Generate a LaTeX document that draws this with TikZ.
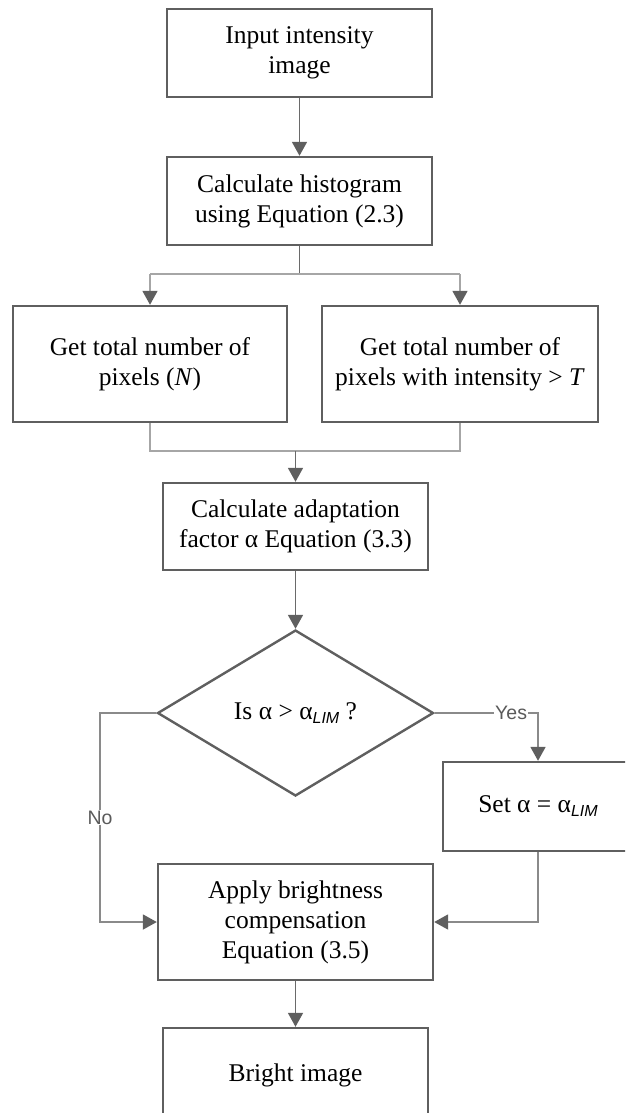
\documentclass[tikz,border=0pt]{standalone}
\usepackage{fontspec}
\setmainfont{Liberation Serif}
\newfontfamily\labfont{Liberation Sans}
\usetikzlibrary{arrows.meta,shapes.geometric}
\definecolor{boxc}{HTML}{5F5F5F}
\definecolor{darkl}{HTML}{6A6A6A}
\definecolor{lightl}{HTML}{A6A6A6}
\definecolor{midl}{HTML}{8A8A8A}
\definecolor{labc}{HTML}{5A5A5A}
\newcommand{\limsub}{\raisebox{-0.35ex}{\labfont\itshape\fontsize{16}{16}\selectfont LIM}}
\begin{document}
\begin{tikzpicture}[x=1pt,y=-1pt,
  every node/.style={font=\fontsize{25.5}{30}\selectfont, text=black},
  pbox/.style={draw=boxc, line width=2.4pt, fill=white, align=center, inner sep=0pt},
  dec/.style={draw=boxc, line width=2.4pt, fill=white, diamond, inner sep=0pt, minimum width=276pt, minimum height=166pt},
  darkline/.style={draw=darkl, line width=1.8pt},
  lightline/.style={draw=lightl, line width=1.8pt},
  midline/.style={draw=midl, line width=1.8pt},
  lab/.style={font=\labfont\fontsize{19.5}{19.5}\selectfont, text=labc, fill=white, inner sep=1pt},
  >={Triangle[length=14pt,width=15pt,color=boxc]}
]
\useasboundingbox (0,0) rectangle (625,1113);
\clip (0,0) rectangle (625,1113);

\node[pbox, minimum width=265pt, minimum height=88pt] (b1) at (299.5,53) {Input intensity\\image};
\node[pbox, minimum width=265pt, minimum height=88pt] (b2) at (299.5,201) {Calculate histogram\\using Equation (2.3)};
\node[pbox, minimum width=274pt, minimum height=116pt] (bl) at (150,364) {Get total number of\\pixels (\textit{N})};
\node[pbox, minimum width=276pt, minimum height=116pt] (br) at (460,364) {Get total number of\\pixels with intensity > \textit{T}};
\node[pbox, minimum width=265pt, minimum height=87pt] (b3) at (295.5,526.5) {Calculate adaptation\\factor α Equation (3.3)};
\node[dec] (d) at (295.5,713) {};
\node (dt) at (295.5,713) {Is α > α\limsub\ ?};
\node[pbox, minimum width=190pt, minimum height=89pt] (set) at (538,806.5) {};
\node (st) at (538,806.5) {Set α = α\limsub};
\node[pbox, minimum width=275pt, minimum height=116pt] (b4) at (295.5,922) {Apply brightness\\compensation\\Equation (3.5)};
\node[pbox, minimum width=265pt, minimum height=94pt] (b5) at (295.5,1075) {Bright image};

% connectors
\coordinate (j1) at (299.5,274);
\coordinate (jl) at (150,274);
\coordinate (jr) at (460,274);
\coordinate (k1) at (150,451);
\coordinate (k2) at (460,451);
\coordinate (km) at (295.5,451);
\coordinate (y1) at (538,713);
\coordinate (n1) at (100,713);
\coordinate (n2) at (100,922);
\coordinate (s1) at (538,922);

\draw[darkline, ->] (b1) -- (b2);
\draw[darkline] (b2.south) -- (j1);
\draw[lightline] (jl) -- (jr);
\draw[lightline, ->] (jl) -- (bl.north);
\draw[lightline, ->] (jr) -- (br.north);
\draw[lightline] (bl.south) -- (k1) -- (k2) -- (br.south);
\draw[darkline, ->] (km) -- (b3.north);
\draw[darkline, ->] (b3.south) -- (d.north);
\draw[midline, ->] (d.east) -- node[lab, pos=0.74] {Yes} (y1) -- (set.north);
\draw[midline, ->] (d.west) -- (n1) -- node[lab, pos=0.5] {No} (n2) -- (b4.west);
\draw[midline, ->] (set.south) -- (s1) -- (b4.east);
\draw[darkline, ->] (b4) -- (b5);
\end{tikzpicture}
\end{document}
